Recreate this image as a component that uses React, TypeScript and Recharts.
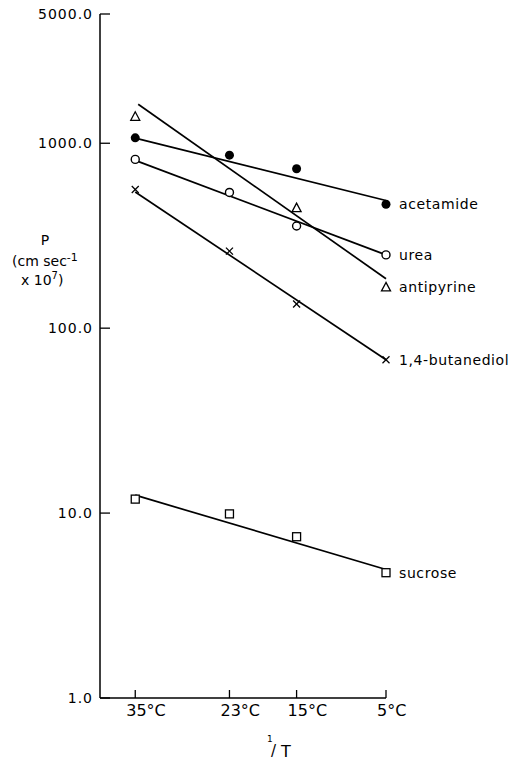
import React from 'react';
import { ComposedChart, Line, XAxis, YAxis, Label } from 'recharts';

// temperatures and their 1/T (x 10^3, K^-1) positions on the x axis
const temps = ['35°C', '23°C', '15°C', '5°C'];
const invT = [3.2452, 3.3767, 3.4704, 3.5952];
const yTicks = [1, 10, 100, 1000, 5000];

const acetamide = [1070, 862, 728, 468];
const urea = [818, 542, 357, 249];
const antipyrine = [1390, null, 446, 166];
const butanediol = [562, 261, 135, 67.5];
const sucrose = [11.9, 9.9, 7.45, 4.76];

// fitted lines: value at start and at end
const fitX = [3.2452, 3.5952];
const antipyrineFitX = [3.2493, 3.5952];
const acetamideFit = [1065, 490];
const ureaFit = [808, 249];
const antipyrineFit = [1626, 185];
const butanediolFit = [545, 67.5];
const sucroseFit = [12.5, 4.95];

const toPts = (vals: (number | null)[], xs: number[]) =>
    vals.map((v, i) => ({ x: xs[i], y: v })).filter((p) => p.y != null);

const font = 'DejaVu Sans, sans-serif';

const drawMarker = (kind: string, name: string, last: number) => (p: any) => {
    const { cx, cy, index } = p;
    if (cx == null || cy == null) return <g key={index} />;
    let shape;
    if (kind === 'dot') {
        shape = <circle cx={cx} cy={cy} r={4.5} fill="#000" />;
    } else if (kind === 'circle') {
        shape = <circle cx={cx} cy={cy} r={4} fill="#fff" stroke="#000" strokeWidth={1.4} />;
    } else if (kind === 'triangle') {
        shape = (
            <polygon
                points={`${cx},${cy - 5} ${cx - 4.5},${cy + 3.5} ${cx + 4.5},${cy + 3.5}`}
                fill="#fff" stroke="#000" strokeWidth={1.3} />
        );
    } else if (kind === 'cross') {
        shape = (
            <g stroke="#000" strokeWidth={1.3}>
                <line x1={cx - 3.5} y1={cy - 3.5} x2={cx + 3.5} y2={cy + 3.5} />
                <line x1={cx - 3.5} y1={cy + 3.5} x2={cx + 3.5} y2={cy - 3.5} />
            </g>
        );
    } else {
        shape = <rect x={cx - 4} y={cy - 4} width={8} height={8} fill="#fff" stroke="#000" strokeWidth={1.3} />;
    }
    return (
        <g key={index}>
            {shape}
            {index === last && (
                <text x={cx + 13} y={cy + 5} fontFamily={font} fontSize={14}
                    letterSpacing={0.6} fill="#000">{name}</text>
            )}
        </g>
    );
};

const series = [
    { name: 'acetamide', vals: acetamide, fit: acetamideFit, fx: fitX, kind: 'dot' },
    { name: 'urea', vals: urea, fit: ureaFit, fx: fitX, kind: 'circle' },
    { name: 'antipyrine', vals: antipyrine, fit: antipyrineFit, fx: antipyrineFitX, kind: 'triangle' },
    { name: '1,4-butanediol', vals: butanediol, fit: butanediolFit, fx: fitX, kind: 'cross' },
    { name: 'sucrose', vals: sucrose, fit: sucroseFit, fx: fitX, kind: 'square' },
];

const XTick = (p: any) => {
    const { x, y, index } = p;
    return (
        <g>
            <line x1={x} y1={y} x2={x} y2={y - 8} stroke="#000" strokeWidth={1.3} />
            <text x={x - 9} y={y + 18} fontFamily={font} fontSize={16} fill="#000">{temps[index]}</text>
        </g>
    );
};

const YTick = (p: any) => {
    const { x, y, payload } = p;
    return (
        <g>
            <line x1={x} y1={y} x2={x + 10} y2={y} stroke="#000" strokeWidth={1.3} />
            <text x={x - 7} y={y + 5} textAnchor="end" fontFamily={font} fontSize={14}
                letterSpacing={1} fill="#000">{Number(payload.value).toFixed(1)}</text>
        </g>
    );
};

const YTitle = () => (
    <g fontFamily={font} fill="#000">
        <text x={45} y={245} textAnchor="middle" fontSize={14}>P</text>
        <text x={12} y={266} fontSize={14}>
            (cm sec<tspan fontSize={11} dy={-5}>-1</tspan>
        </text>
        <text x={21} y={285} fontSize={14}>
            x 10<tspan fontSize={10} dy={-6}>7</tspan><tspan dy={6}>)</tspan>
        </text>
    </g>
);

const XTitle = () => (
    <g fontFamily={font} fill="#000">
        <text x={267} y={742} fontSize={9}>1</text>
        <text x={271} y={756} fontSize={15}>/</text>
        <text x={281} y={757} fontSize={16}>T</text>
    </g>
);

export default function App() {
    return (
        <div style={{ position: 'absolute', left: 0, top: 0, background: '#fff' }}>
            <ComposedChart
                width={511}
                height={760}
                margin={{ top: 14, right: 125, bottom: 0, left: 0 }}
            >
                <XAxis
                    dataKey="x"
                    type="number"
                    domain={[3.196, 3.5952]}
                    ticks={invT}
                    interval={0}
                    height={62}
                    tickSize={0}
                    tickMargin={0}
                    tick={<XTick />}
                    axisLine={{ stroke: '#000', strokeWidth: 1.5 }}
                >
                    <Label content={<XTitle />} />
                </XAxis>
                <YAxis
                    dataKey="y"
                    type="number"
                    scale="log"
                    domain={[1, 5000]}
                    ticks={yTicks}
                    interval={0}
                    width={100}
                    tickSize={0}
                    tickMargin={0}
                    tick={<YTick />}
                    axisLine={{ stroke: '#000', strokeWidth: 1.5 }}
                >
                    <Label content={<YTitle />} />
                </YAxis>
                {series.map((s) => (
                    <Line
                        key={s.name + '-fit'}
                        data={s.fit.map((v, i) => ({ x: s.fx[i], y: v }))}
                        dataKey="y"
                        type="linear"
                        stroke="#000"
                        strokeWidth={1.7}
                        dot={false}
                        activeDot={false}
                        isAnimationActive={false}
                    />
                ))}
                {series.map((s) => {
                    const pts = toPts(s.vals, invT);
                    return (
                        <Line
                            key={s.name}
                            data={pts}
                            dataKey="y"
                            type="linear"
                            stroke="none"
                            dot={drawMarker(s.kind, s.name, pts.length - 1)}
                            activeDot={false}
                            isAnimationActive={false}
                        />
                    );
                })}
            </ComposedChart>
        </div>
    );
}
